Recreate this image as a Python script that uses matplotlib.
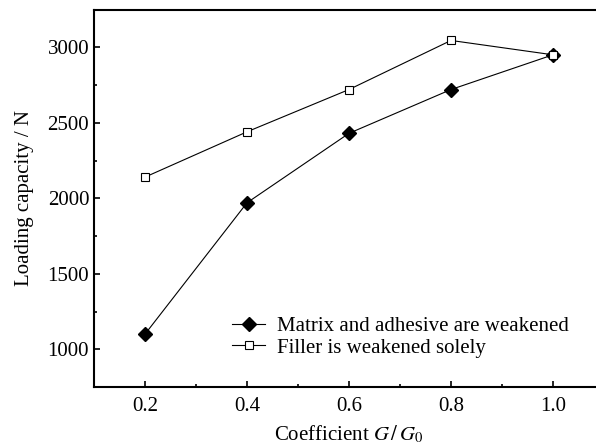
import matplotlib
matplotlib.use("Agg")
import matplotlib.pyplot as plt
from matplotlib.ticker import MultipleLocator

coef = [0.2, 0.4, 0.6, 0.8, 1.0]
matrix_adhesive = [1100, 1970, 2430, 2720, 2950]
filler_only = [2140, 2440, 2720, 3045, 2950]

plt.rcParams["font.family"] = ["Liberation Serif", "DejaVu Serif"]
plt.rcParams["mathtext.fontset"] = "stix"

fig = plt.figure(figsize=(5.96, 4.42), dpi=100)
ax = fig.add_axes([94 / 596, 1 - 387 / 442, (604 - 94) / 596, (387 - 9.5) / 442])

ax.plot(coef, matrix_adhesive, color="black", lw=0.8, marker="D", ms=7,
        mfc="black", mec="black", label="Matrix and adhesive are weakened")
ax.plot(coef, filler_only, color="black", lw=0.8, marker="s", ms=5.5,
        mfc="white", mec="black", mew=0.8, label="Filler is weakened solely")

ax.set_xlim(0.1, 1.1)
ax.set_ylim(750, 3250)
ax.xaxis.set_minor_locator(MultipleLocator(0.1))
ax.yaxis.set_major_locator(MultipleLocator(500))
ax.yaxis.set_minor_locator(MultipleLocator(250))
ax.set_xticks([0.2, 0.4, 0.6, 0.8, 1.0])
ax.set_xticklabels(["0.2", "0.4", "0.6", "0.8", "1.0"])
ax.tick_params(which="both", direction="in", top=False, right=False, labelsize=15, width=1.2)
ax.tick_params(which="major", length=4)
ax.tick_params(axis="x", pad=7)
ax.tick_params(which="minor", length=2.5)
for s in ax.spines.values():
    s.set_linewidth(1.5)

ax.set_xlabel("Coefficient $G\\,/\\,G_0$", fontsize=15, labelpad=6)
ax.set_ylabel("Loading capacity / N", fontsize=15, labelpad=10)

ax.legend(loc="lower left", bbox_to_anchor=(0.25, 0.05), frameon=False, fontsize=15,
          handlelength=1.6, handletextpad=0.55, labelspacing=0.1, borderpad=0)

fig.savefig("out.png", dpi=100)
